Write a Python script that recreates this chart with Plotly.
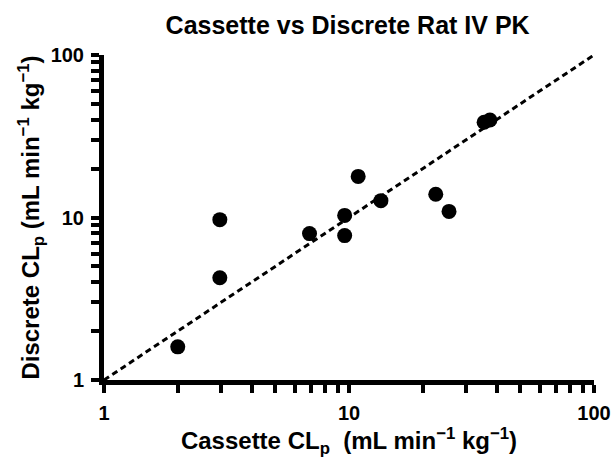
import plotly.graph_objects as go

cassette_clp = [2.0, 2.97, 2.97, 6.9, 9.6, 9.6, 10.9, 13.5, 22.6, 25.6, 35.6, 37.6]
discrete_clp = [1.6, 9.7, 4.26, 7.96, 10.3, 7.74, 17.9, 12.7, 13.9, 10.9, 38.6, 39.8]
unity_x = [1, 100]
unity_y = [1, 100]
major_ticks = [1, 10, 100]
major_labels = ["<b>1</b>", "<b>10</b>", "<b>100</b>"]
minor_ticks = [2, 3, 4, 5, 6, 7, 8, 9, 20, 30, 40, 50, 60, 70, 80, 90]

font_family = "Liberation Sans, Arial, sans-serif"
tick_font = dict(family=font_family, size=20, color="black")
axis_title_font = dict(family=font_family, size=24, color="black")
main_title_font = dict(family=font_family, size=25, color="black")

all_ticks = major_ticks + minor_ticks
all_text = major_labels + [""] * len(minor_ticks)

fig = go.Figure()
fig.add_trace(go.Scatter(x=unity_x, y=unity_y, mode="lines",
                         line=dict(color="black", width=3, dash="6px,4px"),
                         hoverinfo="skip", showlegend=False, cliponaxis=False))
fig.add_trace(go.Scatter(x=cassette_clp, y=discrete_clp, mode="markers",
                         marker=dict(color="black", size=15, line=dict(width=0)),
                         showlegend=False, cliponaxis=False))

def axis(title_text, standoff):
    return dict(
        type="log", range=[0, 2], showgrid=False, zeroline=False,
        showline=True, linecolor="black", linewidth=5,
        ticks="outside", ticklen=8, tickwidth=4, tickcolor="black",
        tickmode="array", tickvals=all_ticks, ticktext=all_text,
        tickfont=tick_font, ticklabelstandoff=3,
        automargin=False,
        title=dict(text=title_text, font=axis_title_font, standoff=standoff),
    )

fig.update_layout(
    width=612, height=458,
    margin=dict(l=104, r=18, t=55, b=78),
    paper_bgcolor="white", plot_bgcolor="white",
    font=dict(family=font_family, color="black"),
    title=dict(text="<b>Cassette vs Discrete Rat IV PK</b>", x=0.568, xanchor="center",
               y=0.945, yanchor="middle", font=main_title_font),
    xaxis=axis("<b>Cassette CL<sub>p</sub>  (mL min<sup>−1</sup> kg<sup>−1</sup>)</b>", 16),
    yaxis=axis("<b>Discrete CL<sub>p</sub> (mL min<sup>−1</sup> kg<sup>−1</sup>)</b>", 6),
)

fig.write_html("out.html", config={"displayModeBar": False},
               post_script="document.body.style.margin='0px';document.body.style.overflow='hidden';")
